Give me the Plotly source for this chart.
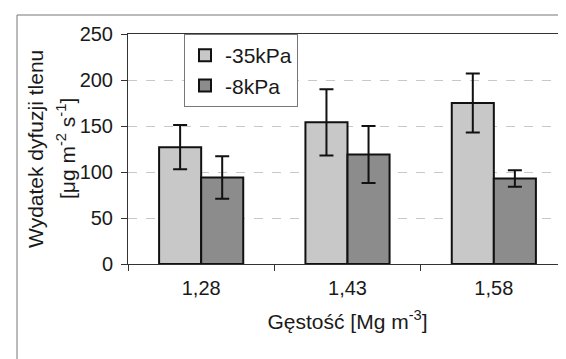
import plotly.graph_objects as go

categories = ["1,28", "1,43", "1,58"]
series_names = ["-35kPa", "-8kPa"]
values_35 = [127, 154, 175]
errors_35 = [24, 36, 32]
values_8 = [94, 119, 93]
errors_8 = [23, 31, 9]
y_ticks = [0, 50, 100, 150, 200, 250]

FONT = "Liberation Sans, Arial, sans-serif"
W, H = 566, 359
L, R, T, B = 120, 7, 26, 103

fig = go.Figure()
fig.add_trace(go.Bar(
    x=categories, y=values_35, name=series_names[0], legendgroup="a",
    marker=dict(color="#c8c8c8", line=dict(color="#111111", width=2)),
    error_y=dict(type="data", array=errors_35, color="#111111", thickness=2, width=7),
))
fig.add_trace(go.Bar(
    x=categories, y=values_8, name=series_names[1], legendgroup="b",
    marker=dict(color="#8c8c8c", line=dict(color="#111111", width=2)),
    error_y=dict(type="data", array=errors_8, color="#111111", thickness=2, width=7),
))

pw = W - L - R
ph = H - T - B

def px_x(p):
    return (p - L) / pw

def px_y(p):
    return (H - B - p) / ph

fig.update_layout(
    width=W, height=H,
    margin=dict(l=L, r=R, t=T, b=B),
    paper_bgcolor="white", plot_bgcolor="white",
    barmode="group", bargap=0.425, bargroupgap=0,
    font=dict(family=FONT, size=20, color="#1a1a1a"),
    showlegend=True,
    legend=dict(
        x=px_x(176), y=px_y(26), xanchor="left", yanchor="top",
        bgcolor="white", bordercolor="#777777", borderwidth=1,
        font=dict(size=21), itemwidth=30, traceorder="grouped", tracegroupgap=0,
    ),
    xaxis=dict(
        showline=True, linecolor="#333333", linewidth=1, mirror=True,
        ticks="outside", ticklen=6, tickcolor="#333333",
        tickson="boundaries", showgrid=False,
        tickfont=dict(size=20), ticklabelstandoff=6,
        title=dict(text="Gęstość [Mg m<sup>-3</sup>]", font=dict(size=21), standoff=16),
    ),
    yaxis=dict(
        range=[0, 250], tickvals=y_ticks,
        showline=True, linecolor="#333333", linewidth=1, mirror=True,
        ticks="outside", ticklen=6, tickcolor="#333333",
        showgrid=True, gridcolor="#c8c8c8", griddash="dash", gridwidth=1,
        tickfont=dict(size=20), zeroline=False, ticklabelstandoff=4,
    ),
    annotations=[
        dict(text="Wydatek dyfuzji tlenu", textangle=-90, xref="paper", yref="paper",
             x=px_x(27), y=0.5, xanchor="center", yanchor="middle", showarrow=False,
             font=dict(size=21)),
        dict(text="[μg m<sup>-2</sup> s<sup>-1</sup>]", textangle=-90, xref="paper", yref="paper",
             x=px_x(58), y=0.5, xanchor="center", yanchor="middle", showarrow=False,
             font=dict(size=21)),
    ],
    shapes=[
        dict(type="rect", xref="paper", yref="paper",
             x0=px_x(9), x1=px_x(600), y0=px_y(400), y1=px_y(7),
             line=dict(color="#777777", width=1), fillcolor="rgba(0,0,0,0)", layer="below"),
    ],
)

fig.write_html("out.html")
